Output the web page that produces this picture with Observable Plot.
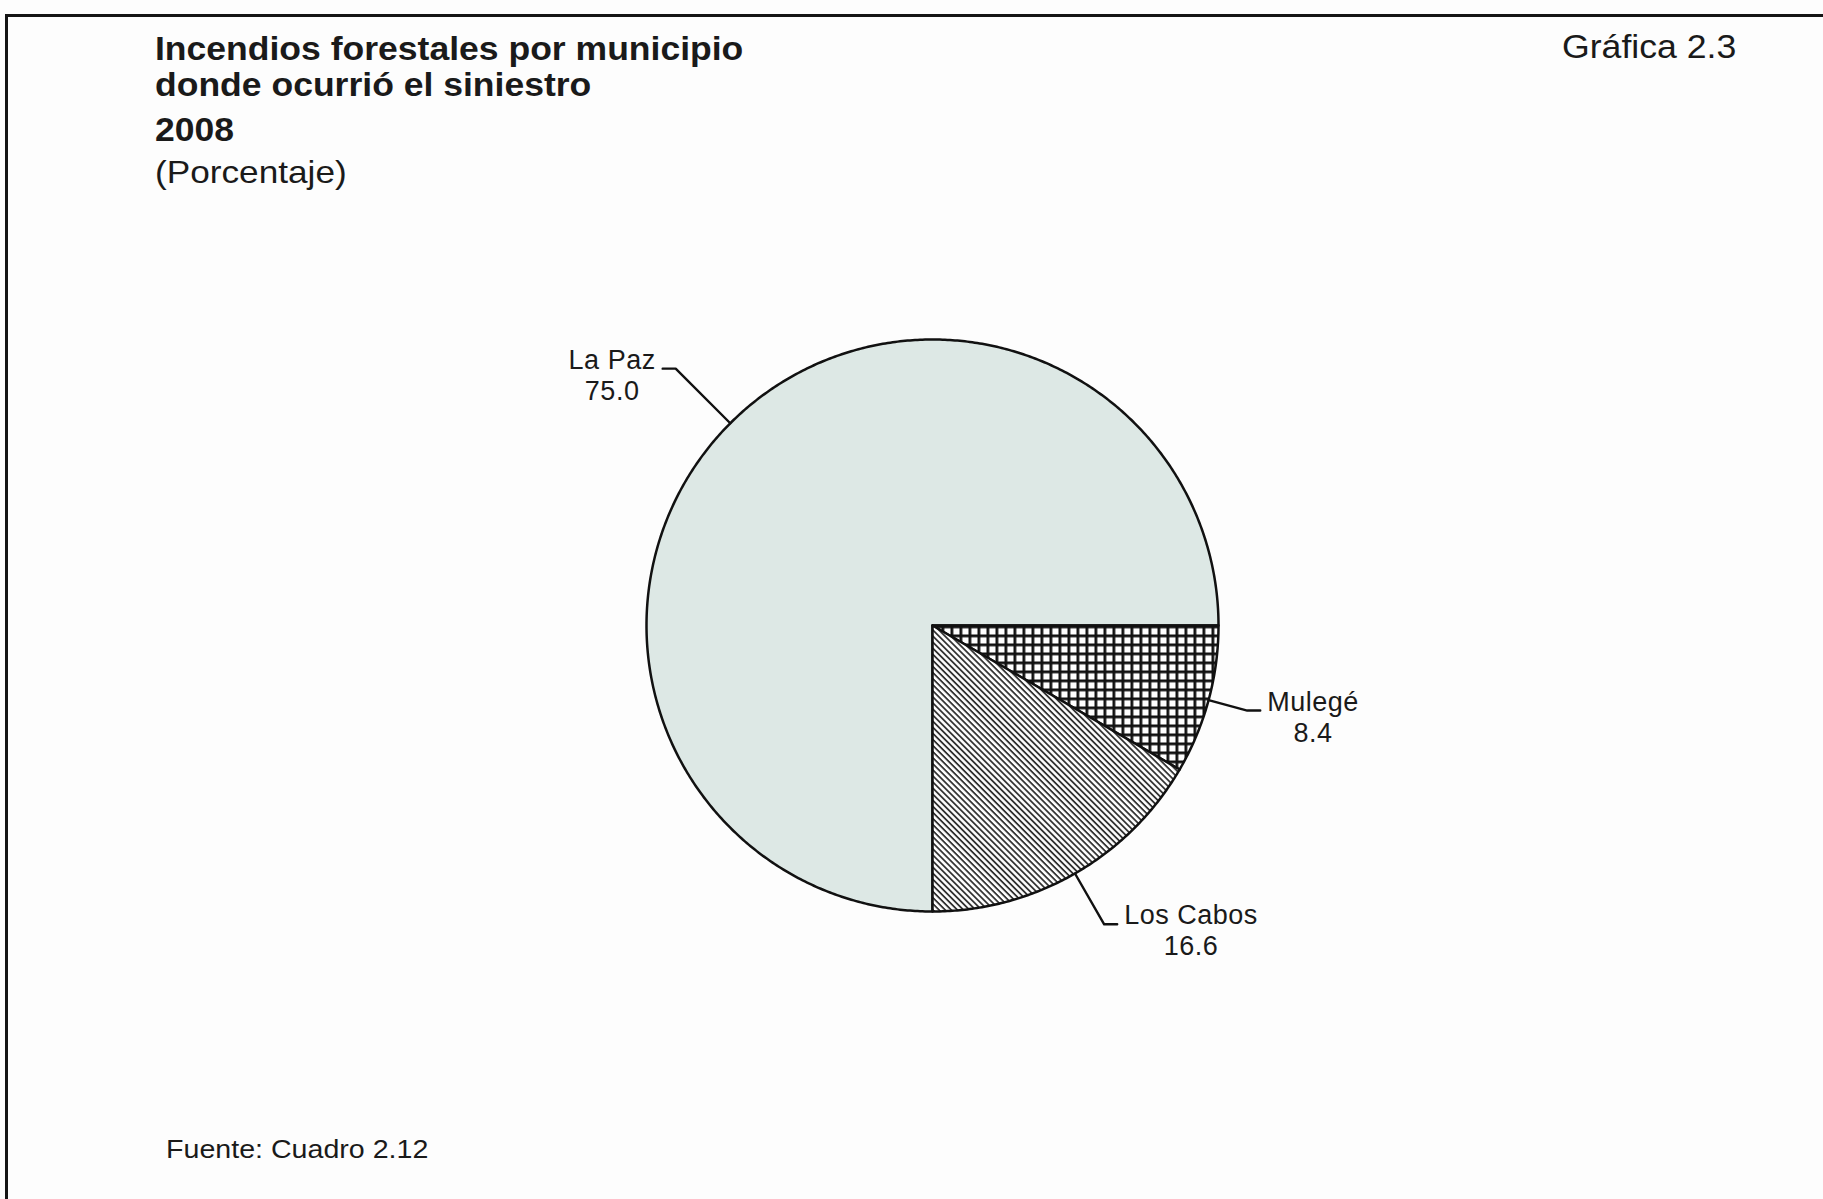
<!DOCTYPE html>
<html><head><meta charset="utf-8">
<script src="https://cdn.jsdelivr.net/npm/d3@7"></script>
<script src="https://cdn.jsdelivr.net/npm/@observablehq/plot@0.6"></script>
<style>
html,body{margin:0;padding:0;background:#fdfdfd;}
body{width:1823px;height:1199px;position:relative;overflow:hidden;font-family:"Liberation Sans",Arial,sans-serif;color:#1a1a1a;}
#frame{position:absolute;left:5px;top:14px;width:1830px;height:1200px;border-left:3px solid #151515;border-top:3px solid #151515;}
.t{position:absolute;white-space:nowrap;transform-origin:0 0;}
.b{font-weight:bold;font-size:34px;line-height:34px;transform:scaleX(1.045);}
#chart{position:absolute;left:0;top:0;}
</style></head><body>
<div id="frame"></div>
<div id="chart"></div>
<div class="t b" style="left:155px;top:31px;">Incendios forestales por municipio</div>
<div class="t b" style="left:155px;top:67px;">donde ocurrió el siniestro</div>
<div class="t b" style="left:155px;top:112px;">2008</div>
<div class="t" style="left:155px;top:156px;font-size:32px;line-height:32px;transform:scaleX(1.1);">(Porcentaje)</div>
<div class="t" style="left:1562px;top:30px;font-size:33px;line-height:33px;transform:scaleX(1.08);">Gráfica 2.3</div>
<div class="t" style="left:166px;top:1136px;font-size:26px;line-height:26px;transform:scaleX(1.1);">Fuente: Cuadro 2.12</div>
<script>
// ---- data ----
const categories = ["La Paz", "Mulegé", "Los Cabos"];
const values = [75.0, 8.4, 16.6];

// ---- style / layout ----
const fillOf = {"La Paz": "#dde8e5", "Mulegé": "url(#grid)", "Los Cabos": "url(#hatch)"};
const leaderR = {"La Paz": 1.27, "Mulegé": 1.14, "Los Cabos": 1.205}; // elbow radius (in pie radii)
const W = 1823, H = 1199, CX = 932, CY = 625, S = 286; // px per unit radius
const labelFont = 27, letterSp = 0.5, tickPx = 13, gapPx = 7, lineGap = 31;

const data = categories.map((name, i) => ({name, value: values[i]}));
const arcs = d3.pie().sort(null).value(d => d.value).startAngle(Math.PI).endAngle(3 * Math.PI)(data);

// slice polygons
const polys = arcs.map(a => {
  const pts = [{x: 0, y: 0}];
  const n = Math.max(2, Math.ceil((a.endAngle - a.startAngle) / (Math.PI / 360)));
  for (let k = 0; k <= n; ++k) {
    const t = a.startAngle + (a.endAngle - a.startAngle) * k / n;
    pts.push({x: Math.sin(t), y: Math.cos(t)});
  }
  pts.push({x: 0, y: 0});
  return {name: a.data.name, pts};
});

// leaders and labels
const ctx = document.createElement("canvas").getContext("2d");
ctx.font = `${labelFont}px "Liberation Sans"`;
const leaders = [], labels = [];
for (const a of arcs) {
  const m = (a.startAngle + a.endAngle) / 2;
  const sx = Math.sin(m), sy = Math.cos(m);
  const side = sx >= 0 ? 1 : -1;
  const R = leaderR[a.data.name];
  const ex = R * sx, ey = R * sy;
  const tx = ex + side * tickPx / S;
  leaders.push({name: a.data.name, x: sx, y: sy}, {name: a.data.name, x: ex, y: ey}, {name: a.data.name, x: tx, y: ey});
  const w = ctx.measureText(a.data.name).width + letterSp * a.data.name.length;
  labels.push({name: a.data.name, value: a.data.value, x: tx + side * (gapPx + w / 2) / S, y: ey});
}

const defs = () => {
  const g = d3.create("svg:g");
  const d = g.append("defs");
  const p1 = d.append("pattern").attr("id", "grid").attr("patternUnits", "userSpaceOnUse")
    .attr("width", 9).attr("height", 9).attr("x", CX).attr("y", CY);
  p1.append("rect").attr("width", 9).attr("height", 9).attr("fill", "#ffffff");
  p1.append("rect").attr("width", 2.8).attr("height", 9).attr("fill", "#111");
  p1.append("rect").attr("width", 9).attr("height", 2.8).attr("fill", "#111");
  const p2 = d.append("pattern").attr("id", "hatch").attr("patternUnits", "userSpaceOnUse")
    .attr("width", 4.3).attr("height", 4.3).attr("patternTransform", "rotate(45)");
  p2.append("rect").attr("width", 4.3).attr("height", 4.3).attr("fill", "#ffffff");
  p2.append("rect").attr("width", 4.3).attr("height", 1.8).attr("fill", "#333");
  return g.node();
};

const chart = Plot.plot({
  width: W, height: H, margin: 0,
  x: {domain: [-CX / S, (W - CX) / S], axis: null},
  y: {domain: [-(H - CY) / S, CY / S], axis: null},
  style: {background: "transparent", fontFamily: "'Liberation Sans', Arial, sans-serif", color: "#1a1a1a", letterSpacing: letterSp + "px"},
  marks: [
    defs,
    ...polys.map(p => Plot.line(p.pts, {x: "x", y: "y", fill: fillOf[p.name], stroke: "#111", strokeWidth: 2.5, strokeLinejoin: "round"})),
    Plot.line(leaders, {x: "x", y: "y", z: "name", stroke: "#111", strokeWidth: 2.4}),
    Plot.text(labels, {x: "x", y: "y", text: d => d.name + "\n" + d.value.toFixed(1), textAnchor: "middle", lineAnchor: "bottom", dy: lineGap, lineHeight: lineGap / labelFont, fontSize: labelFont, fill: "#1a1a1a"})
  ]
});
document.getElementById("chart").appendChild(chart);
</script>
</body></html>
